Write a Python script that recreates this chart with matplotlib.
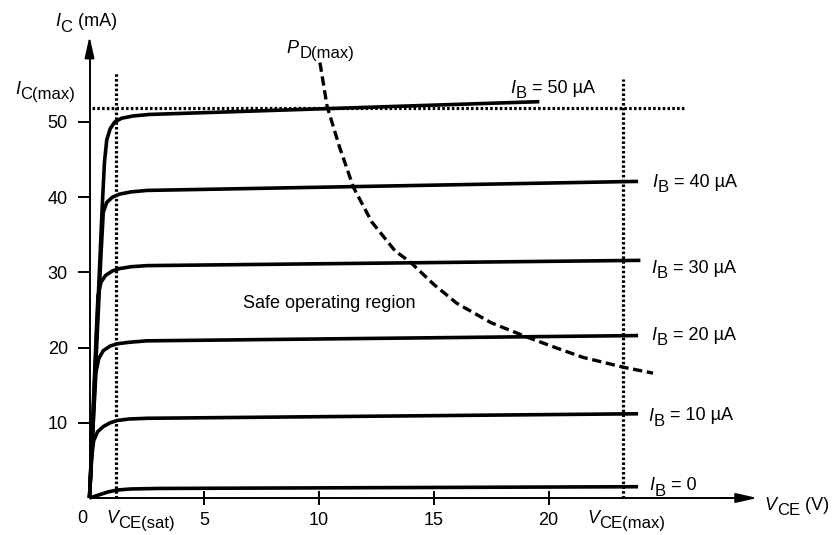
import matplotlib
matplotlib.use('Agg')
import matplotlib.pyplot as plt

plt.rcParams['font.family'] = ['Liberation Sans', 'DejaVu Sans']

# output characteristic curves, V_CE in volts, I_C in mA
ib_labels = ['50', '40', '30', '20', '10', '0']

vce_50 = [0, 0.55, 0.65, 0.75, 0.9, 1.1, 1.4, 1.9, 2.6, 19.6]
ic_50 = [0, 38.5, 44.6, 47.6, 49.1, 50.0, 50.5, 50.8, 51.0, 52.7]

vce_40 = [0, 0.5, 0.6, 0.75, 1.0, 1.3, 1.8, 2.5, 23.9]
ic_40 = [0, 32.4, 38.0, 39.3, 40.0, 40.4, 40.7, 40.9, 42.1]

vce_30 = [0, 0.3, 0.37, 0.5, 0.7, 1.0, 1.3, 1.8, 2.5, 24.0]
ic_30 = [0, 22.3, 26.9, 28.7, 29.6, 30.2, 30.5, 30.75, 30.9, 31.6]

vce_20 = [0, 0.2, 0.28, 0.4, 0.6, 0.9, 1.2, 1.7, 2.5, 23.9]
ic_20 = [0, 12.2, 16.7, 18.5, 19.6, 20.2, 20.5, 20.7, 20.9, 21.6]

vce_10 = [0, 0.04, 0.1, 0.18, 0.35, 0.6, 0.9, 1.2, 1.7, 2.5, 23.9]
ic_10 = [0, 2.5, 5.6, 7.6, 8.8, 9.5, 10.0, 10.3, 10.5, 10.6, 11.2]

vce_0 = [0, 0.4, 0.8, 1.2, 1.8, 3.0, 23.9]
ic_0 = [0, 0.4, 0.8, 1.06, 1.2, 1.27, 1.5]

# maximum power dissipation curve (hand drawn in the original)
vce_pd = [10.04, 10.35, 10.9, 11.5, 12.3, 13.3, 14.0, 15.0, 16.0, 17.5, 19.06, 20.3, 21.5, 23.25, 24.55]
ic_pd = [57.9, 52.1, 46.6, 41.3, 36.7, 32.9, 31.3, 28.4, 25.9, 23.3, 21.4, 20.0, 18.7, 17.4, 16.6]

# limits
vce_sat = 1.15
vce_max = 23.25
ic_max = 51.9

x_ticks = [5, 10, 15, 20]
y_ticks = [10, 20, 30, 40, 50]

curves = [(vce_50, ic_50), (vce_40, ic_40), (vce_30, ic_30),
          (vce_20, ic_20), (vce_10, ic_10), (vce_0, ic_0)]

FS = 13
SUB = 12
DESC = 0.21  # descent of the font, fraction of size

fig = plt.figure(figsize=(8.35, 5.35), dpi=100)
ax = fig.add_axes([0, 0, 1, 1])
ax.set_xlim(-3.9, 32.48)
ax.set_ylim(-4.92, 66.22)

for s in ['top', 'right']:
    ax.spines[s].set_visible(False)
ax.spines['left'].set_position(('data', 0))
ax.spines['bottom'].set_position(('data', 0))
ax.spines['left'].set_bounds(0, 59.8)
ax.spines['bottom'].set_bounds(0, 28)
ax.spines['left'].set_linewidth(1.4)
ax.spines['bottom'].set_linewidth(1.4)

arrow = dict(arrowstyle='-|>,head_length=0.8,head_width=0.18', mutation_scale=16,
             color='black', lw=1.4, shrinkA=0, shrinkB=0)
ax.annotate('', xy=(0, 61.4), xytext=(0, 59.3), arrowprops=arrow)
ax.annotate('', xy=(29.1, 0), xytext=(27.5, 0), arrowprops=arrow)

ax.set_xticks(x_ticks)
ax.set_yticks(y_ticks)
ax.tick_params(axis='x', direction='inout', length=10, width=1.4, pad=5, labelsize=FS)
ax.tick_params(axis='y', direction='out', length=8.6, width=1.4, pad=7, labelsize=FS)

# curves
for v, i in curves:
    ax.plot(v, i, color='black', lw=2.6, solid_joinstyle='round', solid_capstyle='butt')

ax.plot(vce_pd, ic_pd, color='black', lw=2.4, linestyle=(0, (2.8, 1.4)))

dots = dict(color='black', lw=2.3, linestyle=(0, (0.8, 0.7)), dash_capstyle='butt')
ax.plot([vce_sat, vce_sat], [0, 56.7], **dots)
ax.plot([vce_max, vce_max], [0, 55.7], **dots)
ax.plot([0.1, 25.9], [ic_max, ic_max], **dots)


def rich(x, y, parts):
    # parts: (text, size, italic, rise in points)
    t0, s0, it0, r0 = parts[0]
    prev = ax.text(x, y, t0, fontsize=s0, style='italic' if it0 else 'normal', va='baseline')
    ps, pr = s0, r0
    for text, size, it, rise in parts[1:]:
        dy = DESC * ps + (rise - pr)
        prev = ax.annotate(text, xy=(1, 0), xycoords=prev, xytext=(0.3, dy),
                           textcoords='offset points', fontsize=size,
                           style='italic' if it else 'normal', va='baseline')
        ps, pr = size, rise
    return prev


def sub_label(x, y, main, sub, rest=''):
    parts = [(main, FS, True, 0), (sub, SUB, False, -3.5)]
    if rest:
        parts.append((rest, FS, False, 0))
    rich(x, y, parts)


sub_label(-1.5, 62.7, 'I', 'C', ' (mA)')
sub_label(-3.25, 53.7, 'I', 'C(max)')
sub_label(8.6, 59.2, 'P', 'D(max)')
sub_label(0.72, -3.34, 'V', 'CE(sat)')
sub_label(21.68, -3.34, 'V', 'CE(max)')
sub_label(29.4, -1.62, 'V', 'CE', ' (V)')
ax.text(-0.33, -3.34, '0', fontsize=FS, ha='center', va='baseline')
ax.text(6.69, 25.2, 'Safe operating region', fontsize=FS, va='baseline')

label_x = [18.32, 24.5, 24.46, 24.46, 24.33, 24.37]
label_y = [53.8, 41.3, 29.9, 21.0, 10.3, 1.0]
for lx, ly, name in zip(label_x, label_y, ib_labels):
    rest = ' = 0' if name == '0' else ' = ' + name + ' µA'
    sub_label(lx, ly, 'I', 'B', rest)

fig.savefig('out.png', dpi=100)
